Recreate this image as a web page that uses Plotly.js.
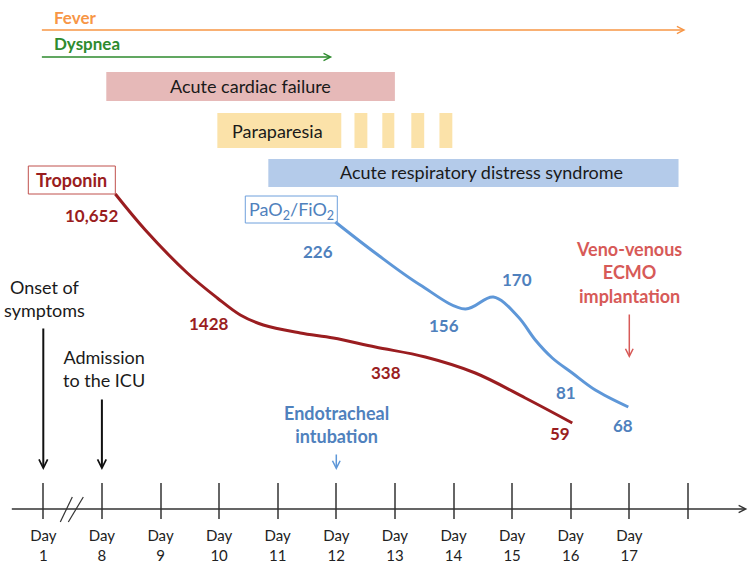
<!DOCTYPE html>
<html><head><meta charset="utf-8">
<script src="https://cdn.plot.ly/plotly-3.0.1.min.js"></script>
<style>html,body{margin:0;padding:0;background:#fff}</style>
</head><body><div id="chart" style="width:750px;height:566px"></div>
<script>
// ---------- DATA (timeline slots: 0 = Day 1, 1 = Day 8, ... 10 = Day 17, 11 = unlabeled) ----------
const tickSlots  = [0, 1, 2, 3, 4, 5, 6, 7, 8, 9, 10, 11];
const tickLabels = ['Day<br>1','Day<br>8','Day<br>9','Day<br>10','Day<br>11','Day<br>12','Day<br>13','Day<br>14','Day<br>15','Day<br>16','Day<br>17',''];

// symptoms (arrows)
const symptomNames = ['Fever', 'Dyspnea'];
const symptomStart = [-0.05, -0.05];
const symptomEnd   = [10.96, 4.93];

// episodes (bars)
const episodeNames = ['Acute cardiac failure', 'Paraparesia', 'Acute respiratory distress syndrome'];
const episodeStart = [1.075, 2.97, 3.84];
const episodeEnd   = [6.0, 5.085, 10.84];
// intermittent paraparesia
const paraStart = [5.31, 5.785, 6.28, 6.76];
const paraEnd   = [5.53, 5.99, 6.50, 6.98];

// troponin curve (schematic level)
const tropSlot  = [1.229, 1.741, 2.457, 2.969, 3.362, 3.754, 4.386, 4.949, 5.666, 6.519, 7.372, 8.225, 9.027];
const tropLevel = [194, 230, 273, 298, 315, 325, 333, 338, 347, 357, 373, 398, 423];
const tropValues = ['10,652', '1428', '338', '59'];

// PaO2/FiO2 curve
const pfSlot  = [4.983, 5.666, 6.433, 7.201, 7.679, 8.106, 8.396, 8.686, 9.027, 9.420, 9.983];
const pfLevel = [222, 253, 285, 309, 297, 317, 340, 358, 373, 390, 407];
const pfValues = ['226', '156', '170', '81', '68'];

// events
const eventNames = ['Onset of<br>symptoms', 'Admission<br>to the ICU', 'Endotracheal<br>intubation', 'Veno-venous<br>ECMO<br>implantation'];
const eventSlot  = [0, 1, 5, 10];

// ---------- STYLE ----------
const FONT = 'Lato, "Open Sans", sans-serif';
const RED = '#9A1D20', BLUE = '#4F81BD', BLUEL = '#5E97D8', ECMO = '#D75A58';
const ORANGE = '#F79646', GREEN = '#2E8B2E';

const shapes = [];
const ann = [];

function txt(x, y, text, color, size, extra) {
  ann.push(Object.assign({x, y, xref: 'x', yref: 'y', text, showarrow: false,
    font: {family: FONT, size, color}}, extra || {}));
}
function arrow(x0, y0, x1, y1, color, width, size) {
  ann.push({x: x1, y: y1, ax: x0, ay: y0, xref: 'x', yref: 'y', axref: 'x', ayref: 'y',
    text: '', showarrow: true, arrowhead: 5, arrowsize: size || 1, arrowwidth: width,
    arrowcolor: color, standoff: 0, startstandoff: 0});
}

// symptom arrows
const symRows = [30, 57], symTextRows = [17, 43], symColors = [ORANGE, GREEN];
symptomNames.forEach((n, i) => {
  arrow(symptomStart[i], symRows[i], symptomEnd[i], symRows[i], symColors[i], 1.4, 1);
  txt(0.154, symTextRows[i], '<b>' + n + '</b>', symColors[i], 17, {xanchor: 'left'});
});

// episode bars
const epRows = [[72, 101], [113, 148], [159, 187]];
const epColors = ['#E6B9B8', '#FBE2A9', '#B4CBEA'];
episodeNames.forEach((n, i) => {
  shapes.push({type: 'rect', xref: 'x', yref: 'y', x0: episodeStart[i], x1: episodeEnd[i],
    y0: epRows[i][0], y1: epRows[i][1], fillcolor: epColors[i], line: {width: 0}, layer: 'below'});
});
paraStart.forEach((s, i) => {
  shapes.push({type: 'rect', xref: 'x', yref: 'y', x0: s, x1: paraEnd[i],
    y0: epRows[1][0], y1: epRows[1][1], fillcolor: epColors[1], line: {width: 0}, layer: 'below'});
});
txt(3.532, 86, episodeNames[0], '#1a1a1a', 18);
txt(3.993, 131, episodeNames[1], '#1a1a1a', 18);
txt(7.48, 172, episodeNames[2], '#1a1a1a', 18);

// label boxes
shapes.push({type: 'rect', xref: 'x', yref: 'y', x0: -0.256, x1: 1.229, y0: 166, y1: 194,
  line: {color: '#C0504D', width: 1}, fillcolor: 'rgba(0,0,0,0)'});
txt(0.486, 180, '<b>Troponin</b>', RED, 18);
shapes.push({type: 'rect', xref: 'x', yref: 'y', x0: 3.447, x1: 5.017, y0: 196, y1: 223,
  line: {color: '#6FA0DC', width: 1}, fillcolor: 'rgba(0,0,0,0)'});
txt(4.232, 210, 'PaO<sub>2</sub>/FiO<sub>2</sub>', BLUE, 18);

// value labels
const tropLab = [[0.819, 215], [2.833, 323], [5.853, 372], [8.823, 433]];
tropValues.forEach((v, i) => txt(tropLab[i][0], tropLab[i][1], '<b>' + v + '</b>', RED, 17));
const pfLab = [[4.693, 251], [6.843, 325], [8.089, 279], [8.925, 392], [9.898, 425]];
pfValues.forEach((v, i) => txt(pfLab[i][0], pfLab[i][1], '<b>' + v + '</b>', BLUE, 17));

// events
txt(eventSlot[0] + 0.017, 298, eventNames[0], '#1a1a1a', 18);
arrow(eventSlot[0], 327, eventSlot[0], 470, '#111', 2, 0.85);
txt(eventSlot[1] + 0.04, 368, eventNames[1], '#1a1a1a', 18);
arrow(eventSlot[1], 398, eventSlot[1], 470, '#111', 2, 0.85);
txt(eventSlot[2], 424, '<b>' + eventNames[2] + '</b>', BLUE, 18);
arrow(eventSlot[2], 453, eventSlot[2], 470, BLUEL, 1.5, 1);
txt(eventSlot[3], 272, '<b>' + eventNames[3] + '</b>', ECMO, 18);
arrow(eventSlot[3], 313, eventSlot[3], 358, ECMO, 1.5, 1);

// time axis line with arrow + break marks
arrow(-0.563, 509, 12.014, 509, '#333', 1.4, 1);
shapes.push({type: 'line', xref: 'x', yref: 'y', x0: 0.29, y0: 522, x1: 0.495, y1: 497, line: {color: '#333', width: 1.2}});
shapes.push({type: 'line', xref: 'x', yref: 'y', x0: 0.427, y0: 522, x1: 0.683, y1: 497, line: {color: '#333', width: 1.2}});

const traces = [
  {x: tropSlot, y: tropLevel, type: 'scatter', mode: 'lines',
   line: {color: RED, width: 3, shape: 'spline', smoothing: 1}, hoverinfo: 'skip'},
  {x: pfSlot, y: pfLevel, type: 'scatter', mode: 'lines',
   line: {color: BLUEL, width: 3, shape: 'spline', smoothing: 1}, hoverinfo: 'skip'}
];

const layout = {
  width: 750, height: 566,
  margin: {l: 0, r: 0, t: 0, b: 0},
  paper_bgcolor: '#fff', plot_bgcolor: 'rgba(0,0,0,0)',
  showlegend: false,
  xaxis: {range: [-0.7389, 12.0597], domain: [0, 1], anchor: 'free', position: 1 - 519 / 566,
    tickvals: tickSlots, ticktext: tickLabels, ticks: 'inside', ticklen: 36, tickwidth: 2,
    tickcolor: '#666', showline: false, showgrid: false, zeroline: false,
    ticklabelstandoff: 6, tickfont: {family: FONT, size: 15, color: '#222'}, fixedrange: true},
  yaxis: {range: [566, 0], domain: [0, 1], visible: false, fixedrange: true},
  shapes, annotations: ann
};
Plotly.newPlot('chart', traces, layout, {staticPlot: true, displayModeBar: false});
</script>
</body></html>
